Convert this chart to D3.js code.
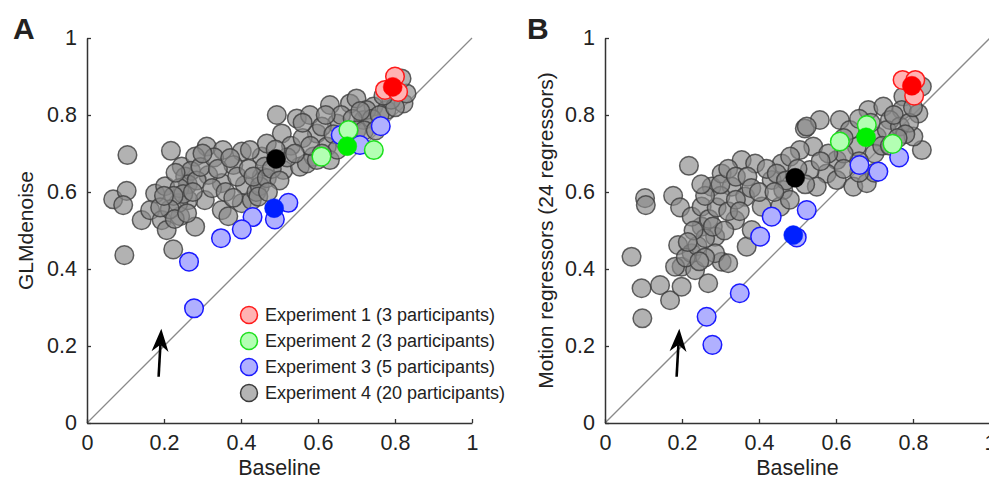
<!DOCTYPE html>
<html>
<head>
<meta charset="utf-8">
<script src="https://cdn.jsdelivr.net/npm/d3@7"></script>
<style>
  body { margin: 0; background: #fff; }
  svg text { font-family: "Liberation Sans", Arial, Helvetica, sans-serif; fill: #222; }
</style>
</head>
<body>
<div id="chart"></div>
<script>

// [baseline, method] pairs

var tickValues = [0, 0.2, 0.4, 0.6, 0.8, 1];
var tickLabels = ['0', '0.2', '0.4', '0.6', '0.8', '1'];

var legendLabels = [
  'Experiment 1 (3 participants)',
  'Experiment 2 (3 participants)',
  'Experiment 3 (5 participants)',
  'Experiment 4 (20 participants)'
];

// panel A : GLMdenoise
var glmExp1 = [[0.800, 0.900], [0.774, 0.865], [0.808, 0.860]];
var glmExp2 = [[0.679, 0.761], [0.609, 0.692], [0.745, 0.709]];
var glmExp3 = [[0.659, 0.748], [0.709, 0.722], [0.763, 0.771], [0.523, 0.572], [0.488, 0.529],
               [0.430, 0.535], [0.402, 0.503], [0.348, 0.480], [0.265, 0.419], [0.278, 0.298]];
var glmExp4 = [
  [0.105, 0.696], [0.218, 0.707], [0.068, 0.581], [0.103, 0.603], [0.094, 0.566], [0.097, 0.436],
  [0.224, 0.451], [0.142, 0.527], [0.311, 0.718], [0.353, 0.709], [0.402, 0.705], [0.246, 0.666],
  [0.281, 0.692], [0.380, 0.670], [0.177, 0.596], [0.203, 0.615], [0.164, 0.553], [0.194, 0.527],
  [0.207, 0.501], [0.281, 0.510], [0.242, 0.537], [0.350, 0.553], [0.367, 0.537], [0.402, 0.571],
  [0.428, 0.579], [0.410, 0.618], [0.350, 0.623], [0.306, 0.579], [0.263, 0.579], [0.237, 0.571],
  [0.315, 0.644], [0.454, 0.640], [0.454, 0.692], [0.255, 0.640], [0.270, 0.655], [0.262, 0.620],
  [0.285, 0.630], [0.240, 0.610], [0.230, 0.650], [0.295, 0.665], [0.250, 0.595], [0.275, 0.600],
  [0.225, 0.590], [0.215, 0.555], [0.228, 0.530], [0.190, 0.560], [0.200, 0.590], [0.260, 0.545],
  [0.330, 0.690], [0.340, 0.660], [0.300, 0.700], [0.325, 0.610], [0.360, 0.600], [0.390, 0.640],
  [0.420, 0.660], [0.372, 0.688], [0.440, 0.600], [0.380, 0.585], [0.493, 0.800], [0.506, 0.752],
  [0.467, 0.726], [0.462, 0.666], [0.510, 0.657], [0.553, 0.666], [0.545, 0.791], [0.579, 0.800],
  [0.631, 0.826], [0.683, 0.830], [0.700, 0.843], [0.744, 0.822], [0.778, 0.813], [0.822, 0.830],
  [0.830, 0.856], [0.817, 0.895], [0.597, 0.752], [0.623, 0.718], [0.588, 0.692], [0.571, 0.674],
  [0.649, 0.778], [0.718, 0.787], [0.726, 0.813], [0.631, 0.683], [0.597, 0.683], [0.449, 0.615],
  [0.432, 0.640], [0.467, 0.636], [0.445, 0.588], [0.423, 0.709], [0.530, 0.720], [0.560, 0.740],
  [0.580, 0.720], [0.610, 0.770], [0.640, 0.750], [0.660, 0.800], [0.690, 0.790], [0.700, 0.760],
  [0.740, 0.790], [0.760, 0.800], [0.790, 0.840], [0.800, 0.820], [0.770, 0.850], [0.670, 0.730],
  [0.650, 0.710], [0.610, 0.700], [0.520, 0.690], [0.540, 0.700], [0.490, 0.710], [0.480, 0.660],
  [0.500, 0.630], [0.470, 0.600], [0.620, 0.800], [0.680, 0.760], [0.720, 0.760], [0.560, 0.780],
  [0.710, 0.810], [0.750, 0.760]
];
var glmMeans = [[0.491, 0.686, 'k'], [0.486, 0.558, 'b'], [0.676, 0.719, 'g'], [0.794, 0.873, 'r']];

// panel B : motion regressors
var motionExp1 = [[0.773, 0.891], [0.806, 0.891], [0.803, 0.850]];
var motionExp2 = [[0.680, 0.774], [0.610, 0.731], [0.747, 0.725]];
var motionExp3 = [[0.661, 0.670], [0.710, 0.653], [0.764, 0.690], [0.524, 0.553], [0.498, 0.482],
                  [0.433, 0.536], [0.403, 0.484], [0.350, 0.337], [0.264, 0.276], [0.279, 0.203]];
var motionExp4 = [
  [0.218, 0.668], [0.104, 0.584], [0.106, 0.566], [0.177, 0.590], [0.195, 0.560], [0.069, 0.432],
  [0.095, 0.350], [0.143, 0.358], [0.169, 0.319], [0.097, 0.272], [0.268, 0.363], [0.190, 0.462],
  [0.199, 0.406], [0.234, 0.397], [0.303, 0.419], [0.286, 0.484], [0.251, 0.510], [0.225, 0.536],
  [0.251, 0.562], [0.277, 0.614], [0.303, 0.648], [0.355, 0.683], [0.390, 0.674], [0.329, 0.614],
  [0.338, 0.527], [0.368, 0.458], [0.381, 0.501], [0.407, 0.562], [0.433, 0.631], [0.459, 0.674],
  [0.364, 0.588], [0.286, 0.441], [0.225, 0.441], [0.182, 0.406], [0.199, 0.354], [0.320, 0.415],
  [0.210, 0.430], [0.240, 0.460], [0.260, 0.480], [0.230, 0.500], [0.270, 0.530], [0.290, 0.560],
  [0.300, 0.590], [0.260, 0.590], [0.280, 0.510], [0.310, 0.500], [0.320, 0.550], [0.340, 0.580],
  [0.300, 0.620], [0.320, 0.660], [0.340, 0.640], [0.370, 0.640], [0.380, 0.610], [0.350, 0.550],
  [0.260, 0.430], [0.215, 0.470], [0.245, 0.420], [0.400, 0.600], [0.420, 0.660], [0.250, 0.620],
  [0.519, 0.765], [0.558, 0.787], [0.610, 0.787], [0.684, 0.813], [0.723, 0.822], [0.775, 0.848],
  [0.771, 0.813], [0.814, 0.804], [0.823, 0.874], [0.823, 0.709], [0.801, 0.744], [0.740, 0.787],
  [0.654, 0.718], [0.602, 0.683], [0.576, 0.648], [0.602, 0.631], [0.645, 0.614], [0.680, 0.623],
  [0.541, 0.718], [0.506, 0.709], [0.481, 0.692], [0.446, 0.648], [0.463, 0.605], [0.455, 0.562],
  [0.532, 0.657], [0.550, 0.614], [0.706, 0.744], [0.732, 0.761], [0.766, 0.770], [0.636, 0.761],
  [0.524, 0.770], [0.690, 0.780], [0.700, 0.700], [0.720, 0.720], [0.660, 0.680], [0.620, 0.700],
  [0.580, 0.700], [0.560, 0.680], [0.500, 0.660], [0.470, 0.630], [0.750, 0.800], [0.790, 0.780],
  [0.780, 0.750], [0.700, 0.650], [0.660, 0.650], [0.620, 0.660], [0.740, 0.720], [0.520, 0.620],
  [0.480, 0.580], [0.440, 0.600], [0.760, 0.740], [0.800, 0.820], [0.660, 0.790], [0.620, 0.740]
];
var motionMeans = [[0.494, 0.637, 'k'], [0.489, 0.488, 'b'], [0.678, 0.742, 'g'], [0.797, 0.876, 'r']];

// arrow (tail, tip) in data units
var arrowPoints = [[0.186, 0.12], [0.193, 0.245]];

var width = 989,
    height = 481,
    side = 385;

var styles = {
  r: { fill: '#ffb3b3', stroke: '#ff1a1a', solid: '#ff0000' },
  g: { fill: '#b3ffb3', stroke: '#1ee01e', solid: '#00ee00' },
  b: { fill: '#b0b0ff', stroke: '#1a1aff', solid: '#0020ff' },
  k: { fill: '#888888', stroke: '#3c3c3c', solid: '#000000' }
};

var svg = d3.select('#chart')
  .append('svg')
  .attr('width', width)
  .attr('height', height);

drawPanel({ left: 87, top: 38, letter: 'A', letterX: 13, ylabel: 'GLMdenoise', ylabelX: 33,
  groups: [[glmExp4, 'k'], [glmExp3, 'b'], [glmExp2, 'g'], [glmExp1, 'r']], means: glmMeans, legend: true });

drawPanel({ left: 605, top: 38, letter: 'B', letterX: 527, ylabel: 'Motion regressors (24 regressors)', ylabelX: 553,
  groups: [[motionExp4, 'k'], [motionExp3, 'b'], [motionExp2, 'g'], [motionExp1, 'r']], means: motionMeans, legend: false });

function drawPanel(opts) {

  var x = d3.scaleLinear().domain([0, 1]).range([opts.left, opts.left + side]);
  var y = d3.scaleLinear().domain([0, 1]).range([opts.top + side, opts.top]);

  var g = svg.append('g');

  // identity line
  g.append('line')
    .attr('x1', x(0)).attr('y1', y(0))
    .attr('x2', x(1)).attr('y2', y(1))
    .attr('stroke', '#8a8a8a')
    .attr('stroke-width', 1.3);

  var xAxis = d3.axisBottom(x)
    .tickValues(tickValues)
    .tickFormat(function(d, i) { return tickLabels[i]; })
    .tickSizeInner(-4)
    .tickSizeOuter(0)
    .tickPadding(12);

  var yAxis = d3.axisLeft(y)
    .tickValues(tickValues)
    .tickFormat(function(d, i) { return tickLabels[i]; })
    .tickSizeInner(-4)
    .tickSizeOuter(0)
    .tickPadding(10);

  [[xAxis, 'translate(0,' + y(0) + ')'], [yAxis, 'translate(' + x(0) + ',0)']].forEach(function(pair) {
    var a = g.append('g')
      .attr('transform', pair[1])
      .call(pair[0]);
    a.select('.domain').attr('stroke', '#333').attr('stroke-width', 1.5);
    a.selectAll('.tick line').attr('stroke', '#333').attr('stroke-width', 1.3);
    a.selectAll('.tick text')
      .style('font-size', '21.5px')
      .attr('fill', '#222');
  });

  // points, one layer per experiment
  opts.groups.forEach(function(group) {
    var st = styles[group[1]];
    g.append('g').selectAll('circle')
      .data(group[0])
      .enter().append('circle')
        .attr('cx', function(d) { return x(d[0]); })
        .attr('cy', function(d) { return y(d[1]); })
        .attr('r', 9.3)
        .attr('fill', st.fill)
        .attr('fill-opacity', group[1] === 'k' ? 0.65 : 1)
        .attr('stroke', st.stroke)
        .attr('stroke-opacity', group[1] === 'k' ? 0.8 : 1)
        .attr('stroke-width', 1.5);
  });

  // group means
  g.append('g').selectAll('circle')
    .data(opts.means)
    .enter().append('circle')
      .attr('cx', function(d) { return x(d[0]); })
      .attr('cy', function(d) { return y(d[1]); })
      .attr('r', 9.5)
      .attr('fill', function(d) { return styles[d[2]].solid; })
      .attr('stroke', function(d) { return styles[d[2]].solid; })
      .attr('stroke-width', 0.5);

  // arrow
  var tail = [x(arrowPoints[0][0]), y(arrowPoints[0][1])];
  var tip = [x(arrowPoints[1][0]), y(arrowPoints[1][1])];
  var ang = Math.atan2(tip[1] - tail[1], tip[0] - tail[0]);
  var headLen = 23, headHalf = 8.5;
  var bx = tip[0] - headLen * Math.cos(ang), by = tip[1] - headLen * Math.sin(ang);
  var nx = -Math.sin(ang), ny = Math.cos(ang);
  var notch = [tip[0] - 0.7 * headLen * Math.cos(ang), tip[1] - 0.7 * headLen * Math.sin(ang)];

  g.append('line')
    .attr('x1', tail[0]).attr('y1', tail[1])
    .attr('x2', notch[0]).attr('y2', notch[1])
    .attr('stroke', '#000')
    .attr('stroke-width', 2.6);

  g.append('path')
    .attr('d', 'M' + tip + 'L' + [bx + nx * headHalf, by + ny * headHalf] + 'L' + notch +
               'L' + [bx - nx * headHalf, by - ny * headHalf] + 'Z')
    .attr('fill', '#000');

  // labels
  g.append('text')
    .attr('x', (x(0) + x(1)) / 2)
    .attr('y', 475)
    .attr('text-anchor', 'middle')
    .style('font-size', '21.5px')
    .text('Baseline');

  g.append('text')
    .attr('transform', 'translate(' + opts.ylabelX + ',' + (y(0) + y(1)) / 2 + ') rotate(-90)')
    .attr('text-anchor', 'middle')
    .style('font-size', '21px')
    .text(opts.ylabel);

  g.append('text')
    .attr('x', opts.letterX)
    .attr('y', 39)
    .style('font-size', '30px')
    .style('font-weight', 'bold')
    .attr('fill', '#000')
    .text(opts.letter);

  if (opts.legend) {
    var keys = ['r', 'g', 'b', 'k'];
    var leg = g.append('g').selectAll('g')
      .data(legendLabels)
      .enter().append('g')
        .attr('transform', function(d, i) { return 'translate(249,' + (315 + i * 26) + ')'; });

    leg.append('circle')
      .attr('r', 8.5)
      .attr('fill', function(d, i) { return keys[i] === 'k' ? '#b4b4b4' : styles[keys[i]].fill; })
      .attr('stroke', function(d, i) { return styles[keys[i]].stroke; })
      .attr('stroke-width', 1.5);

    leg.append('text')
      .attr('x', 16)
      .attr('dy', '0.35em')
      .style('font-size', '18px')
      .text(function(d) { return d; });
  }
}

</script>
</body>
</html>
